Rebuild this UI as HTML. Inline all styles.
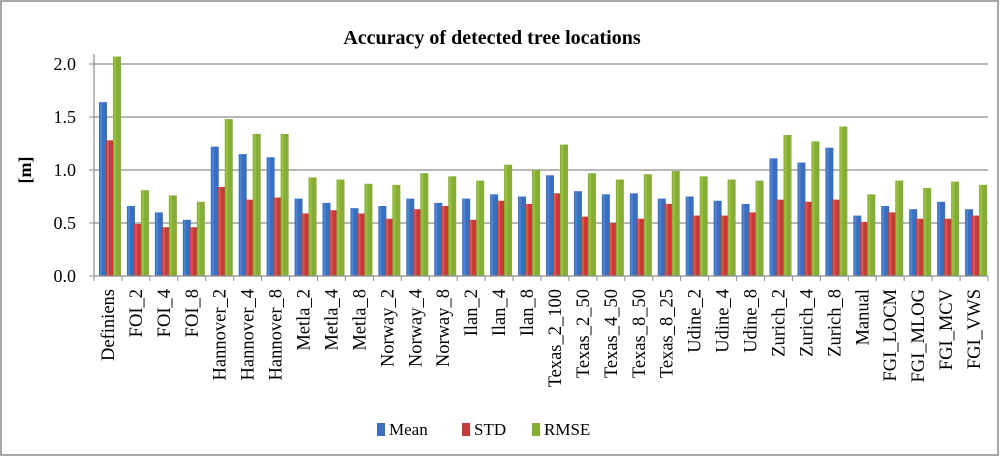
<!DOCTYPE html>
<html><head><meta charset="utf-8"><style>
body{margin:0;background:#fff;}
svg{display:block;font-family:"Liberation Serif",serif;}
</style></head><body>
<svg id="chart" width="1000" height="457">
<rect x="1" y="1" width="997" height="454" fill="#fff" stroke="#8a8a8a" stroke-width="1.5"/>
<text x="492" y="44" text-anchor="middle" font-size="20" font-weight="bold">Accuracy of detected tree locations</text>
<text transform="translate(31,170) rotate(-90)" text-anchor="middle" font-size="18" font-weight="bold">[m]</text>
<g id="grid"></g><g id="bars"></g><g id="axes"></g>
<g>
<rect x="377" y="423" width="8" height="13" fill="#3a6fc0"/>
<text x="389" y="435" font-size="17">Mean</text>
<rect x="462" y="423" width="8" height="13" fill="#c83a37"/>
<text x="474" y="435" font-size="17">STD</text>
<rect x="532" y="423" width="8" height="13" fill="#86ad34"/>
<text x="544" y="435" font-size="17">RMSE</text>
</g>
</svg>
<script>
const categories=["Definiens","FOI_2","FOI_4","FOI_8","Hannover_2","Hannover_4","Hannover_8","Metla_2","Metla_4","Metla_8","Norway_2","Norway_4","Norway_8","Ilan_2","Ilan_4","Ilan_8","Texas_2_100","Texas_2_50","Texas_4_50","Texas_8_50","Texas_8_25","Udine_2","Udine_4","Udine_8","Zurich_2","Zurich_4","Zurich_8","Manual","FGI_LOCM","FGI_MLOG","FGI_MCV","FGI_VWS"];
const meanValues=[1.64,0.66,0.60,0.53,1.22,1.15,1.12,0.73,0.69,0.64,0.66,0.73,0.69,0.73,0.77,0.75,0.95,0.80,0.77,0.78,0.73,0.75,0.71,0.68,1.11,1.07,1.21,0.57,0.66,0.63,0.70,0.63];
const stdValues=[1.28,0.49,0.46,0.46,0.84,0.72,0.74,0.59,0.62,0.59,0.54,0.63,0.66,0.53,0.71,0.68,0.78,0.56,0.50,0.54,0.68,0.57,0.57,0.60,0.72,0.70,0.72,0.51,0.60,0.54,0.54,0.57];
const rmseValues=[2.07,0.81,0.76,0.70,1.48,1.34,1.34,0.93,0.91,0.87,0.86,0.97,0.94,0.90,1.05,1.00,1.24,0.97,0.91,0.96,0.99,0.94,0.91,0.90,1.33,1.27,1.41,0.77,0.90,0.83,0.89,0.86];
const yTicks=[0,0.5,1.0,1.5,2.0];
const yTickLabels=["0.0","0.5","1.0","1.5","2.0"];

const NS="http://www.w3.org/2000/svg";
const X0=94,X1=988,Y0=276,Y2=64,YMAX=2.0;
const step=(X1-X0)/categories.length;
const yScale=v=>Y0-(v/YMAX)*(Y0-Y2);
const xBand=i=>X0+i*step;
function mk(tag,attrs,parent){const e=document.createElementNS(NS,tag);for(const k in attrs)e.setAttribute(k,attrs[k]);parent.appendChild(e);return e;}
const grid=document.getElementById('grid'),bars=document.getElementById('bars'),axes=document.getElementById('axes');
yTicks.forEach((t,i)=>{
  const y=yScale(t);
  if(t>0){const l=mk('line',{x1:X0,x2:X1,y1:y,y2:y,stroke:'#8c8c8c','stroke-width':1.2},grid);
  
  }
  const tk=mk('line',{x1:X0-5,x2:X0,y1:y,y2:y,stroke:'#8c8c8c'},axes);
  
  
  const tx=mk('text',{x:X0-18,y:y+6,'text-anchor':'end','font-size':18},axes);
  tx.textContent=yTickLabels[i];
  
  
});
const series=[[meanValues,'#3a6fc0','#5b8fe0',5,'mean'],[stdValues,'#c83a37','#e06a66',12,'std'],[rmseValues,'#86ad34','#a6cc50',19,'rmse']];
categories.forEach((c,i)=>{
  const gx=xBand(i);
  series.forEach(s=>{
    const v=s[0][i],y=yScale(v);
    const r=mk('rect',{x:gx+s[3],y:y,width:8,height:Y0-y,fill:s[1]},bars);
    
    
    mk('rect',{x:gx+s[3]+1,y:y,width:2,height:Y0-y,fill:s[2],opacity:0.6},bars);
  });
  const tk=mk('line',{x1:gx,x2:gx,y1:Y0,y2:Y0+5,stroke:'#8c8c8c'},axes);
  
  
  const cx=gx+step/2+6;
  const t=mk('text',{transform:`translate(${cx},289) rotate(-90)`,'text-anchor':'end','font-size':18.5},axes);
  t.textContent=c;
  
  
});
mk('line',{x1:X1,x2:X1,y1:Y0,y2:Y0+5,stroke:'#8c8c8c'},axes);
const xa=mk('line',{x1:X0,x2:X1,y1:Y0,y2:Y0,stroke:'#8c8c8c','stroke-width':1.2},axes);


const ya=mk('line',{x1:X0,x2:X0,y1:Y2-10,y2:Y0,stroke:'#8c8c8c','stroke-width':1.2},axes);


</script>
</body></html>
